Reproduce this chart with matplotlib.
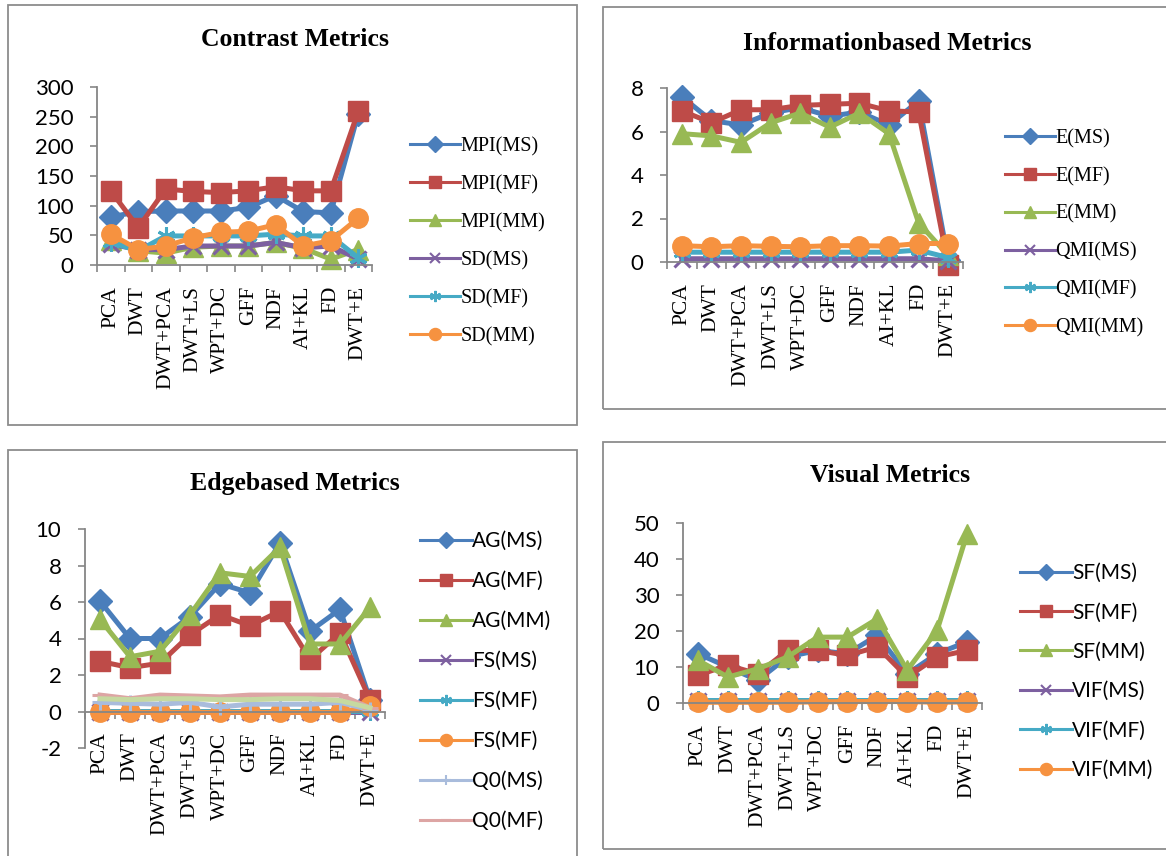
import numpy as np
import matplotlib.pyplot as plt
from matplotlib.lines import Line2D
from matplotlib.patches import Rectangle

methods = ["PCA", "DWT", "DWT+PCA", "DWT+LS", "WPT+DC", "GFF", "NDF", "AI+KL", "FD", "DWT+E"]

# contrast metrics
mpi_ms = [81, 90, 91, 91, 91, 97, 117, 90, 88, 255]
mpi_mf = [125, 63, 128, 124, 122, 125, 132, 125, 125, 259]
mpi_mm = [42, 24, 20, 30, 32, 32, 38, 28, 10, 26]
sd_ms = [35, 26, 26, 32, 32, 32, 38, 29, 32, 10]
sd_mf = [38, 24, 49, 49, 49, 49, 52, 49, 49, 12]
sd_mm = [52, 26, 32, 46, 55, 57, 68, 32, 41, 79]

# information based metrics
e_ms = [7.6, 6.5, 6.3, 6.85, 7.1, 6.7, 6.9, 6.3, 7.4, 0.1]
e_mf = [6.95, 6.4, 7.0, 7.0, 7.2, 7.25, 7.3, 6.95, 6.9, -0.15]
e_mm = [5.9, 5.8, 5.5, 6.4, 6.85, 6.2, 6.85, 5.9, 1.8, 0.3]
qmi_ms = [0.15, 0.15, 0.15, 0.15, 0.15, 0.15, 0.15, 0.15, 0.15, 0.05]
qmi_mf = [0.45, 0.45, 0.45, 0.45, 0.45, 0.45, 0.45, 0.45, 0.55, 0.2]
qmi_mm = [0.75, 0.7, 0.75, 0.72, 0.7, 0.75, 0.75, 0.73, 0.85, 0.85]

# edge based metrics
ag_ms = [6.05, 4.0, 4.0, 5.2, 7.0, 6.5, 9.25, 4.4, 5.6, 0.65]
ag_mf = [2.75, 2.4, 2.65, 4.2, 5.3, 4.7, 5.5, 2.85, 4.3, 0.65]
ag_mm = [5.05, 3.0, 3.3, 5.3, 7.6, 7.4, 9.0, 3.7, 3.7, 5.7]
fs_ms = [0.0, 0.0, 0.0, 0.0, 0.0, 0.0, 0.0, 0.0, 0.0, 0.0]
fs_mf = [0.05, 0.05, 0.05, 0.05, 0.05, 0.05, 0.05, 0.05, 0.05, 0.05]
fs_mm = [-0.05, -0.05, -0.05, -0.05, -0.05, -0.05, -0.05, -0.05, -0.05, 0.3]
q0_ms = [0.5, 0.45, 0.4, 0.5, 0.25, 0.4, 0.4, 0.4, 0.5, 0.1]
q0_mf = [0.9, 0.7, 0.9, 0.85, 0.8, 0.9, 0.9, 0.9, 0.9, 0.2]
q0_mm = [0.7, 0.65, 0.7, 0.7, 0.65, 0.65, 0.7, 0.7, 0.6, 0.2]

# visual metrics
sf_ms = [13.7, 10.0, 6.3, 12.8, 14.6, 13.7, 18.8, 8.1, 13.7, 17.0]
sf_mf = [7.7, 10.5, 8.1, 14.6, 14.6, 13.2, 15.6, 7.2, 12.8, 14.6]
sf_mm = [11.9, 7.2, 9.5, 12.8, 18.3, 18.3, 23.4, 9.1, 20.2, 47.0]
vif_ms = [0.5, 0.5, 0.5, 0.5, 0.5, 0.5, 0.5, 0.5, 0.5, 0.5]
vif_mf = [0.9, 0.9, 0.9, 0.9, 0.9, 0.9, 0.9, 0.9, 0.9, 0.9]
vif_mm = [0.2, 0.2, 0.2, 0.2, 0.3, 0.4, 0.4, 0.4, 0.2, 0.3]

BLUE = "#4A7EBB"
RED = "#BE4B48"
GREEN = "#98B954"
PURPLE = "#7D60A0"
TEAL = "#46AAC5"
ORANGE = "#F69240"
LBLUE = "#A9BCDC"
LRED = "#DDA5A4"
LGREEN = "#C6D9A0"
AXIS = "#868686"

SERIF = "Liberation Serif"
SANS = "Lato"

STAR = (6, 2, 0)
LINE_MARKERS = ("x", STAR, "+", "_")
STYLES = [
    (BLUE, "D", 12.5), (RED, "s", 14), (GREEN, "^", 14),
    (PURPLE, "x", 11), (TEAL, STAR, 13), (ORANGE, "o", 14),
]

W, H = 1166, 856
fig = plt.figure(figsize=(W / 100, H / 100), dpi=100)


def box(x0, y0, x1, y1):
    fig.patches.append(Rectangle((x0 / W, 1 - y1 / H), (x1 - x0) / W, (y1 - y0) / H,
                                 transform=fig.transFigure, fill=False,
                                 edgecolor="#8C8C8C", lw=1.3))


def make_axes(left, top, right, bottom):
    return fig.add_axes([left / W, 1 - bottom / H, (right - left) / W, (bottom - top) / H])


def style_axes(ax, ylim, yticks):
    n = len(methods)
    # spine position first: moving it resets the ticks
    for side in ("top", "right"):
        ax.spines[side].set_visible(False)
    for side in ("left", "bottom"):
        ax.spines[side].set_color(AXIS)
        ax.spines[side].set_linewidth(1.3)
    ax.spines["bottom"].set_position(("data", 0))

    ax.set_xlim(-0.5, n - 0.5)
    ax.set_ylim(*ylim)
    ax.set_yticks(yticks)
    ax.set_xticks(np.arange(n + 1) - 0.5)
    ax.set_xticks(np.arange(n), minor=True)
    ax.tick_params(axis="x", which="major", direction="out", length=5,
                   width=1.2, color=AXIS, labelbottom=False)
    ax.tick_params(axis="x", which="minor", length=0, pad=15, labelrotation=90,
                   labelsize=15.5)
    ax.tick_params(axis="y", direction="out", length=5, width=1.2, color=AXIS,
                   pad=12, labelsize=16)
    ax.set_xticklabels(methods, minor=True, fontfamily=SERIF, va="top")
    ax.set_yticklabels([str(t) for t in yticks], fontfamily=SANS)
    ax.patch.set_alpha(0)


def plot_series(ax, data, styles, lw=3.6):
    x = np.arange(len(methods))
    for values, (color, marker, ms) in zip(data, styles):
        ax.plot(x, values, color=color, lw=lw, marker=marker, ms=ms,
                mew=2.2 if marker in LINE_MARKERS else 1, mec=color, mfc=color,
                solid_joinstyle="round", clip_on=False)


def legend(names, styles, x, y, family, size, spacing):
    handles = [Line2D([], [], color=c, lw=2.2, marker=m, ms=ms * 0.62,
                      mew=1.5 if m in LINE_MARKERS else 1, mec=c, mfc=c)
               for c, m, ms in styles]
    fig.legend(handles, names, loc="upper left", bbox_to_anchor=(x / W, 1 - y / H),
               frameon=False, borderpad=0, borderaxespad=0, handlelength=2.5,
               handletextpad=0.0, labelspacing=spacing,
               prop={"family": family, "size": size})


def title(text, x, y):
    fig.text(x / W, 1 - y / H, text, ha="center", va="center",
             fontfamily=SERIF, fontweight="bold", fontsize=18.5)


# panel frames
box(8, 5, 577, 425)
box(603, 7, 1175, 409)
box(8, 450, 577, 870)
box(603, 442, 1175, 849)

# contrast metrics
ax1 = make_axes(97, 87, 372, 265)
plot_series(ax1, [mpi_ms, mpi_mf, mpi_mm, sd_ms, sd_mf, sd_mm], STYLES)
style_axes(ax1, (0, 300), [0, 50, 100, 150, 200, 250, 300])
title("Contrast Metrics", 295, 40)
legend(["MPI(MS)", "MPI(MF)", "MPI(MM)", "SD(MS)", "SD(MF)", "SD(MM)"],
       STYLES, 410, 137, SERIF, 14.5, 0.93)

# information based metrics
ax2 = make_axes(667, 88, 963, 262)
plot_series(ax2, [e_ms, e_mf, e_mm, qmi_ms, qmi_mf, qmi_mm], STYLES)
style_axes(ax2, (0, 8), [0, 2, 4, 6, 8])
title("Informationbased Metrics", 887, 43)
legend(["E(MS)", "E(MF)", "E(MM)", "QMI(MS)", "QMI(MF)", "QMI(MM)"],
       STYLES, 1005, 129, SERIF, 14.5, 0.92)

# edge based metrics
edge_styles = STYLES + [(LBLUE, "+", 11), (LRED, "_", 11), (LGREEN, "^", 0)]
ax3 = make_axes(85, 529, 385, 748)
plot_series(ax3, [ag_ms, ag_mf, ag_mm, fs_ms, fs_mf, fs_mm, q0_ms, q0_mf, q0_mm],
            edge_styles)
style_axes(ax3, (-2, 10), [-2, 0, 2, 4, 6, 8, 10])
title("Edgebased Metrics", 295, 483)
legend(["AG(MS)", "AG(MF)", "AG(MM)", "FS(MS)", "FS(MF)", "FS(MF)", "Q0(MS)", "Q0(MF)"],
       edge_styles[:8], 420, 531, SANS, 15, 0.96)

# visual metrics
ax4 = make_axes(683, 523, 982, 703)
plot_series(ax4, [sf_ms, sf_mf, sf_mm, vif_ms, vif_mf, vif_mm], STYLES)
style_axes(ax4, (0, 50), [0, 10, 20, 30, 40, 50])
title("Visual Metrics", 890, 476)
legend(["SF(MS)", "SF(MF)", "SF(MM)", "VIF(MS)", "VIF(MF)", "VIF(MM)"],
       STYLES, 1020, 563, SANS, 15, 0.93)

fig.savefig("out.png", dpi=100)
